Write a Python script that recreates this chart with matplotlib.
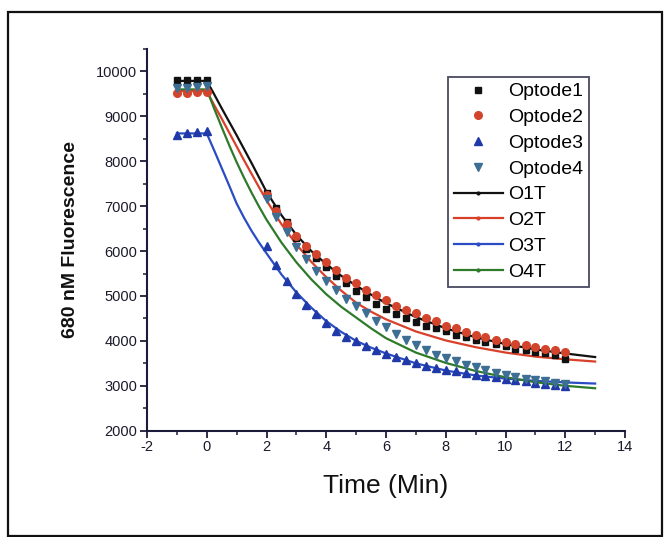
import matplotlib
matplotlib.use("Agg")
import matplotlib.pyplot as plt
from matplotlib.patches import Rectangle
from matplotlib.lines import Line2D
from matplotlib.ticker import MultipleLocator

plt.rcParams['font.family'] = ['Liberation Sans', 'DejaVu Sans']
plt.rcParams['axes.unicode_minus'] = False

# measured optode readings (min, counts)
t_meas = [-1, -0.67, -0.33, 0,
          2, 2.33, 2.67, 3, 3.33, 3.67, 4, 4.33, 4.67, 5, 5.33, 5.67, 6,
          6.33, 6.67, 7, 7.33, 7.67, 8, 8.33, 8.67, 9, 9.33, 9.67, 10,
          10.33, 10.67, 11, 11.33, 11.67, 12]
optode1 = [9800, 9800, 9800, 9800,
           7300, 6950, 6650, 6300, 6050, 5840, 5640, 5450, 5280, 5120, 4980, 4830, 4700,
           4590, 4500, 4420, 4330, 4280, 4210, 4130, 4080, 4020, 3980, 3940, 3880,
           3830, 3790, 3750, 3720, 3680, 3600]
optode2 = [9520, 9530, 9540, 9540,
           7250, 6900, 6600, 6330, 6110, 5930, 5760, 5580, 5400, 5280, 5140, 5020, 4910,
           4770, 4690, 4610, 4510, 4450, 4330, 4280, 4190, 4130, 4080, 4030, 3980,
           3935, 3905, 3870, 3815, 3795, 3760]
optode3 = [8580, 8620, 8660, 8680,
           6110, 5690, 5340, 5040, 4800, 4590, 4400, 4230, 4090, 3990, 3880, 3790, 3710,
           3650, 3580, 3510, 3450, 3400, 3360, 3320, 3290, 3250, 3220, 3190, 3160,
           3130, 3100, 3070, 3050, 3020, 3000]
optode4 = [9630, 9640, 9660, 9670,
           7150, 6750, 6420, 6100, 5820, 5560, 5330, 5130, 4940, 4770, 4610, 4450, 4300,
           4150, 4030, 3910, 3800, 3690, 3610, 3550, 3470, 3420, 3350, 3290, 3240,
           3200, 3160, 3120, 3100, 3070, 3050]

# fitted traces
t_fit = [-1, -0.5, 0, 0.25, 0.5, 0.75, 1, 1.25, 1.5, 1.75, 2, 2.5, 3, 3.5, 4,
         4.5, 5, 5.5, 6, 7, 8, 9, 10, 11, 12, 13]
o1t = [9790, 9790, 9790, 9490, 9180, 8880, 8580, 8270, 7960, 7640, 7320, 6800, 6360,
       6000, 5710, 5450, 5230, 5030, 4840, 4530, 4280, 4080, 3930, 3810, 3720, 3640]
o2t = [9560, 9560, 9560, 9250, 8950, 8640, 8330, 8020, 7720, 7420, 7130, 6600, 6150,
       5760, 5420, 5120, 4850, 4650, 4480, 4210, 4010, 3860, 3740, 3650, 3590, 3540]
o3t = [8620, 8620, 8620, 8240, 7850, 7460, 7060, 6740, 6450, 6190, 5950, 5480, 5080,
       4740, 4440, 4200, 4000, 3850, 3720, 3500, 3340, 3230, 3160, 3110, 3075, 3050]
o4t = [9600, 9600, 9600, 9170, 8760, 8360, 7980, 7630, 7300, 6990, 6700, 6190, 5750,
       5370, 5040, 4760, 4520, 4280, 4060, 3740, 3510, 3330, 3190, 3080, 3000, 2945]

axis_col = '#1c1c3a'

fig = plt.figure(figsize=(6.65, 5.37), dpi=100)
ax = fig.add_axes([147 / 665, 1 - 430.7 / 537, 478 / 665, 381.7 / 537])

fits = [
    ('O1T', o1t, '#111111'),
    ('O2T', o2t, '#d8402a'),
    ('O3T', o3t, '#2a4cc4'),
    ('O4T', o4t, '#2f7a2a'),
]
points = [
    ('Optode1', optode1, 's', '#111111', 5),
    ('Optode2', optode2, 'o', '#d2452c', 5.5),
    ('Optode3', optode3, '^', '#1f3aa8', 6),
    ('Optode4', optode4, 'v', '#3d6e94', 6),
]

fit_handles = []
for name, vals, col in fits:
    ax.plot(t_fit, vals, color=col, lw=1.6, zorder=2)
    fit_handles.append(Line2D([], [], color=col, lw=1.6, marker='.', ms=4, label=name))

pt_handles = []
for name, vals, mk, col, ms in points:
    h, = ax.plot(t_meas, vals, ls='none', marker=mk, ms=ms, color=col, mec=col, label=name, zorder=3)
    pt_handles.append(h)

ax.set_xlim(-2, 14)
ax.set_ylim(2000, 10500)
ax.xaxis.set_major_locator(MultipleLocator(2))
ax.xaxis.set_minor_locator(MultipleLocator(1))
ax.yaxis.set_minor_locator(MultipleLocator(500))
ax.set_yticks(range(2000, 10001, 1000))

for s in ['top', 'right']:
    ax.spines[s].set_visible(False)
for s in ['left', 'bottom']:
    ax.spines[s].set_color(axis_col)
    ax.spines[s].set_linewidth(1.5)
ax.tick_params(which='major', direction='out', length=5, width=1.3, color=axis_col,
               labelsize=10.5, labelcolor='#1a1a2a', pad=2)
ax.tick_params(which='minor', direction='out', length=3, width=1.1, color=axis_col)

ax.set_xlabel('Time (Min)', fontsize=19, color='#111111', labelpad=14)
ax.set_ylabel('680 nM Fluorescence', fontsize=14, fontweight='bold', color='#111111', labelpad=12)

leg = ax.legend(pt_handles + fit_handles, [h.get_label() for h in pt_handles + fit_handles],
                loc='upper left', bbox_to_anchor=(0.630, 0.927), borderaxespad=0,
                fancybox=False, edgecolor=axis_col, fontsize=14, numpoints=1,
                handlelength=2.5, handletextpad=0.3, labelspacing=0.42, borderpad=0.3)
leg.get_frame().set_linewidth(1.3)

# outer frame around the figure
fig.add_artist(Rectangle((8 / 665, 1 - 536 / 537), 654 / 665, 524 / 537,
                         transform=fig.transFigure, fill=False, ec='#111111', lw=1.6))

fig.savefig('out.png', dpi=100)
